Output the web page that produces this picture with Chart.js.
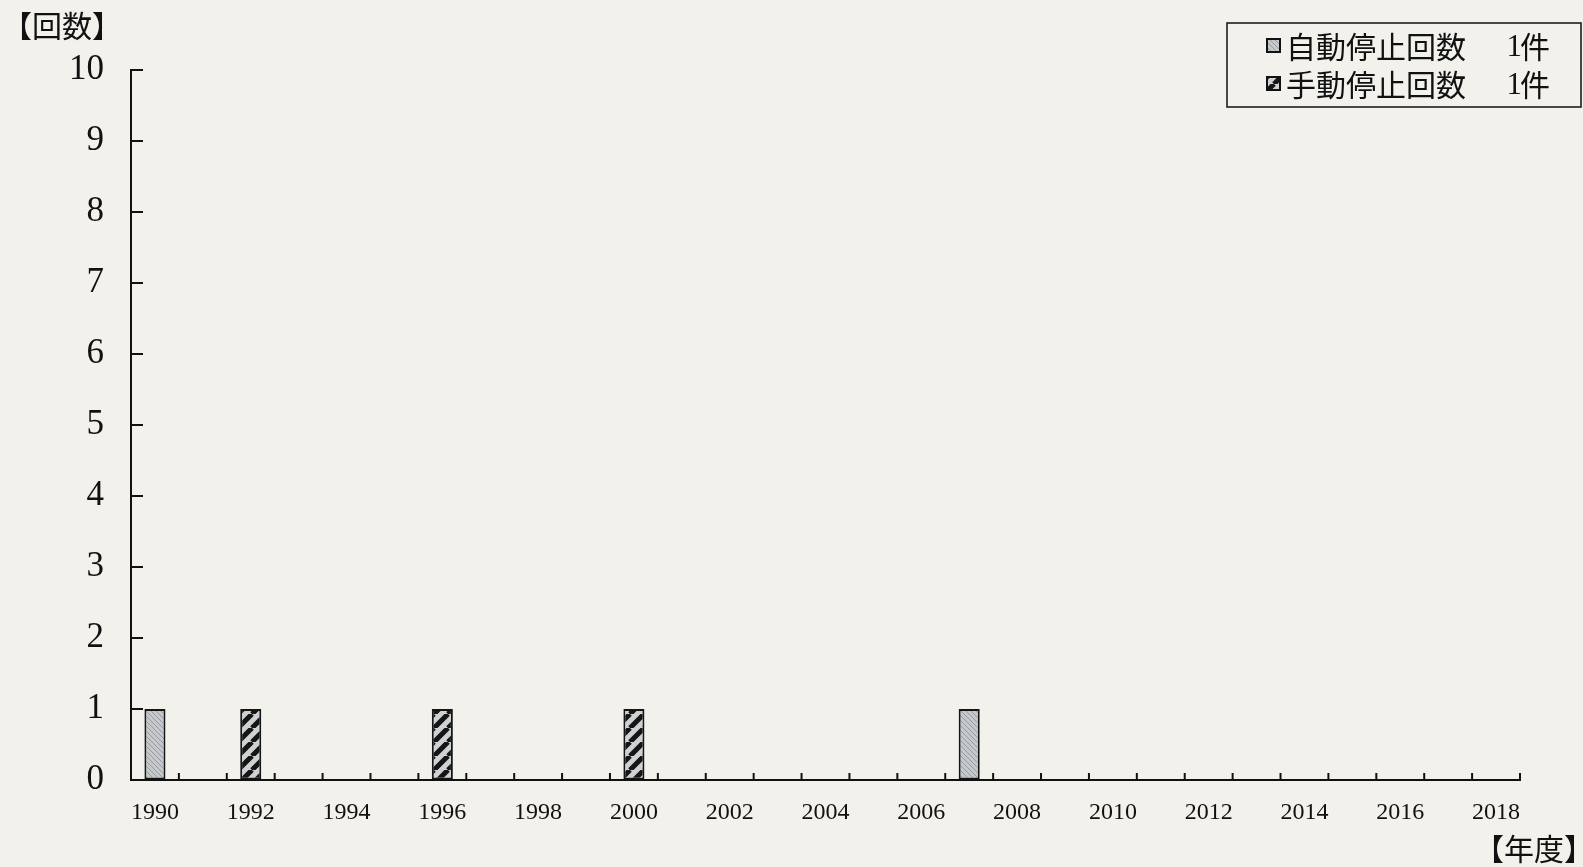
<!DOCTYPE html>
<html>
<head>
<meta charset="utf-8">
<script src="https://cdn.jsdelivr.net/npm/chart.js@4"></script>
<style>
  html, body { margin: 0; padding: 0; background: #f2f1eb; overflow: hidden; }
  #wrap { width: 1583px; height: 867px; position: relative; }
</style>
</head>
<body>
<div id="wrap"><canvas id="c" width="1583" height="867"></canvas></div>
<script>
// ---- data ----
const years = ['1990','1991','1992','1993','1994','1995','1996','1997','1998','1999',
               '2000','2001','2002','2003','2004','2005','2006','2007','2008','2009',
               '2010','2011','2012','2013','2014','2015','2016','2017','2018'];
const autoStops   = [1,0,0,0,0,0,0,0,0,0, 0,0,0,0,0,0,0,1,0,0, 0,0,0,0,0,0,0,0,0];
const manualStops = [0,0,1,0,0,0,1,0,0,0, 1,0,0,0,0,0,0,0,0,0, 0,0,0,0,0,0,0,0,0];
const seriesNames = ['自動停止回数', '手動停止回数'];
const seriesCounts = ['1', '1'];
const countUnit = '件';
const yTitle = '【回数】';
const xTitle = '【年度】';

// ---- patterns ----
function makePattern(size, bg, line, lw, dir) {
  const c = document.createElement('canvas');
  c.width = size; c.height = size;
  const g = c.getContext('2d');
  g.fillStyle = bg; g.fillRect(0, 0, size, size);
  g.strokeStyle = line; g.lineWidth = lw;
  g.beginPath();
  if (dir === '/') {
    for (let k = -1; k <= 1; k++) {
      g.moveTo(k * size, size); g.lineTo(k * size + size, 0);
    }
  } else {
    for (let k = -1; k <= 1; k++) {
      g.moveTo(k * size, 0); g.lineTo(k * size + size, size);
    }
  }
  g.stroke();
  return g.createPattern(c, 'repeat');
}
const autoFill = makePattern(5, '#c6c9cc', '#979ba0', 1, '\\');
const manualFill = makePattern(14, '#cfd2d5', '#151515', 5, '/');

const serif = '"Liberation Serif", "DejaVu Serif", serif';
const cjk = '"Noto Sans CJK JP", sans-serif';

const decor = {
  id: 'decor',
  afterDraw(chart) {
    const ctx = chart.ctx;
    const xs = chart.scales.x, ys = chart.scales.y;
    const ca = chart.chartArea;
    ctx.save();
    ctx.strokeStyle = '#111';
    ctx.lineWidth = 2;
    // inward y ticks
    ys.ticks.forEach((t, i) => {
      const y = ys.getPixelForTick(i);
      ctx.beginPath(); ctx.moveTo(ca.left, y); ctx.lineTo(ca.left + 12, y); ctx.stroke();
    });
    // inward x ticks at category boundaries
    const step = xs.getPixelForValue(1) - xs.getPixelForValue(0);
    for (let i = 0; i <= years.length; i++) {
      const x = xs.getPixelForValue(0) - step / 2 + i * step;
      ctx.beginPath(); ctx.moveTo(x, ca.bottom); ctx.lineTo(x, ca.bottom - 7); ctx.stroke();
    }
    // axis titles
    ctx.fillStyle = '#111';
    ctx.font = '30px ' + cjk;
    ctx.textBaseline = 'middle';
    ctx.textAlign = 'left';
    ctx.fillText(yTitle, 2, 26);
    ctx.textAlign = 'right';
    ctx.fillText(xTitle, 1594, 849);
    // legend
    const bx = 1227, by = 23, bw = 354, bh = 84;
    ctx.fillStyle = '#f2f1eb';
    ctx.fillRect(bx, by, bw, bh);
    ctx.lineWidth = 1.5;
    ctx.strokeStyle = '#111';
    ctx.strokeRect(bx, by, bw, bh);
    const fills = [autoFill, manualFill];
    const rowsY = [46, 84];
    for (let i = 0; i < 2; i++) {
      const cy = rowsY[i];
      ctx.fillStyle = fills[i];
      ctx.fillRect(1267, cy - 7, 13, 13);
      ctx.strokeStyle = '#111';
      ctx.lineWidth = 2;
      ctx.strokeRect(1267, cy - 7, 13, 13);
      ctx.fillStyle = '#111';
      ctx.textAlign = 'left';
      ctx.font = '30px ' + cjk;
      ctx.fillText(seriesNames[i], 1286, cy + 1);
      ctx.textAlign = 'right';
      ctx.fillText(countUnit, 1550, cy + 1);
      ctx.font = '31px ' + serif;
      ctx.fillText(seriesCounts[i], 1522, cy + 2);
    }
    ctx.restore();
  }
};

new Chart(document.getElementById('c'), {
  type: 'bar',
  data: {
    labels: years,
    datasets: [
      { label: seriesNames[0], data: autoStops, backgroundColor: autoFill,
        borderColor: '#151515', borderWidth: 2, borderSkipped: false },
      { label: seriesNames[1], data: manualStops, backgroundColor: manualFill,
        borderColor: '#151515', borderWidth: 2, borderSkipped: false }
    ]
  },
  options: {
    responsive: false,
    animation: false,
    devicePixelRatio: 1,
    layout: { padding: { left: 0, right: 63, top: 70, bottom: 0 } },
    plugins: { legend: { display: false }, tooltip: { enabled: false } },
    datasets: { bar: { categoryPercentage: 1, barPercentage: 0.44 } },
    scales: {
      x: {
        stacked: true,
        grid: { display: true, drawOnChartArea: false, drawTicks: false },
        border: { color: '#111', width: 2 },
        ticks: {
          autoSkip: false, maxRotation: 0, padding: 18, color: '#111',
          font: { family: serif, size: 24 },
          callback: (v, i) => (i % 2 === 0 ? years[i] : '')
        },
        afterFit: s => { s.height = 87; }
      },
      y: {
        stacked: true,
        min: 0, max: 10,
        grid: { display: true, drawOnChartArea: false, drawTicks: false },
        border: { color: '#111', width: 2 },
        ticks: { stepSize: 1, padding: 27, color: '#111', font: { family: serif, size: 35 } },
        afterFit: s => { s.width = 131; }
      }
    }
  },
  plugins: [decor]
});
</script>
</body>
</html>
